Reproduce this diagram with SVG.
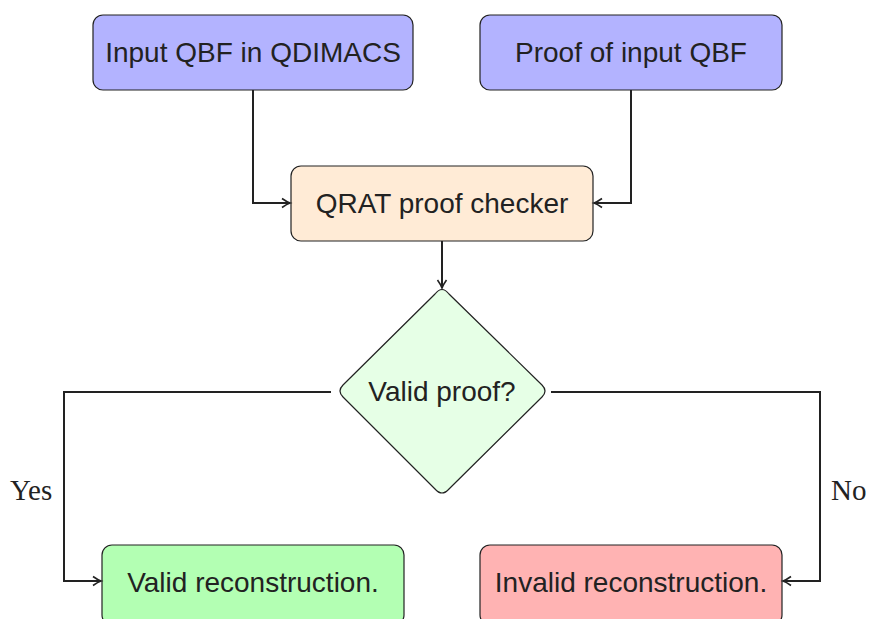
<svg xmlns="http://www.w3.org/2000/svg" width="869" height="619" viewBox="0 0 869 619">
  <style>
    .box { stroke: #222; stroke-width: 1.2; }
    .lbl { font-family: "Liberation Sans", "DejaVu Sans", sans-serif; font-size: 28px; fill: #222; text-anchor: middle; dominant-baseline: central; }
    .edge-lbl { font-family: "Liberation Serif", "DejaVu Serif", serif; font-size: 29px; fill: #222; dominant-baseline: central; }
    .conn { fill: none; stroke: #222; stroke-width: 2; }
  </style>
  <defs>
    <marker id="arrow" markerWidth="12" markerHeight="12" refX="9" refY="6" orient="auto" markerUnits="userSpaceOnUse">
      <path d="M1,1.5 Q6,5 9,6 Q6,7 1,10.5" fill="none" stroke="#222" stroke-width="1.6"/>
    </marker>
  </defs>

  <g id="input-qbf">
    <rect class="box" x="93" y="15" width="320" height="75" rx="10" fill="#b3b3ff"/>
    <text class="lbl" x="253" y="52">Input QBF in QDIMACS</text>
  </g>
  <g id="proof-input">
    <rect class="box" x="480" y="15" width="302" height="75" rx="10" fill="#b3b3ff"/>
    <text class="lbl" x="631" y="52">Proof of input QBF</text>
  </g>
  <g id="checker">
    <rect class="box" x="291" y="166" width="302" height="75" rx="10" fill="#ffebd6"/>
    <text class="lbl" x="442" y="203">QRAT proof checker</text>
  </g>
  <g id="decision">
    <path class="box" d="M435,294 Q442,285 449,294 L542,385 Q548,391 542,397 L449,489 Q442,497 435,489 L343,397 Q337,391 343,385 Z" fill="#e6ffe6"/>
    <text class="lbl" x="442" y="391">Valid proof?</text>
  </g>
  <g id="valid">
    <rect class="box" x="102" y="545" width="302" height="80" rx="10" fill="#b3ffb3"/>
    <text class="lbl" x="253" y="582">Valid reconstruction.</text>
  </g>
  <g id="invalid">
    <rect class="box" x="480" y="545" width="302" height="80" rx="10" fill="#ffb3b3"/>
    <text class="lbl" x="631" y="582">Invalid reconstruction.</text>
  </g>

  <g id="connectors">
    <path class="conn" d="M253,90 V203 H290" marker-end="url(#arrow)"/>
    <path class="conn" d="M631,90 V203 H594" marker-end="url(#arrow)"/>
    <path class="conn" d="M442,241 V288" marker-end="url(#arrow)"/>
    <path class="conn" d="M331,392 H64 V581 H101" marker-end="url(#arrow)"/>
    <path class="conn" d="M551,392 H820 V581 H783" marker-end="url(#arrow)"/>
    <text class="edge-lbl" x="10" y="490">Yes</text>
    <text class="edge-lbl" x="831" y="490">No</text>
  </g>
</svg>
